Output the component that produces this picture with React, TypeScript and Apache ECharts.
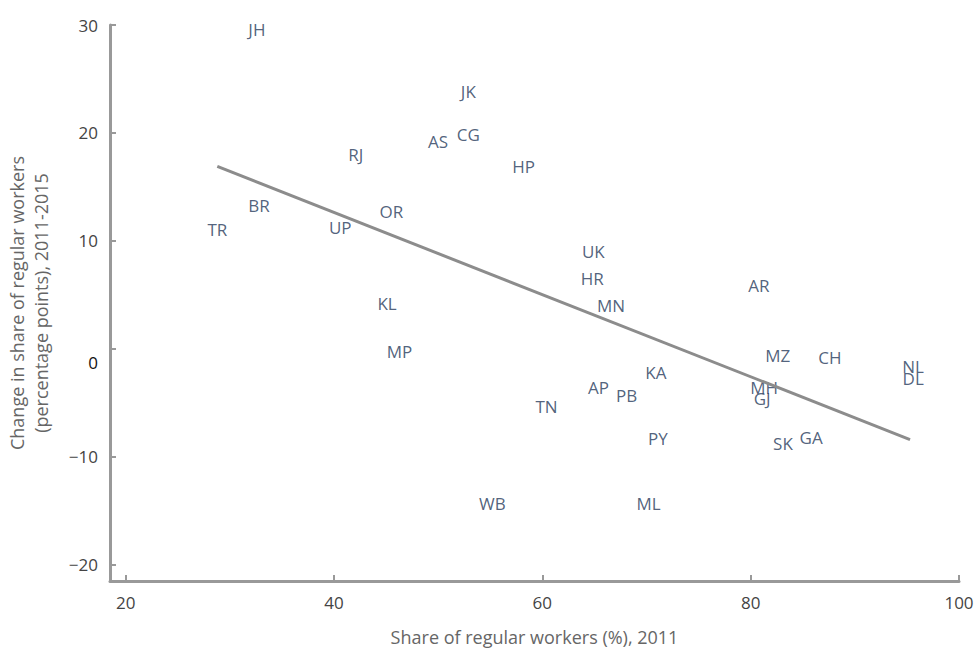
import React, { useEffect, useRef } from "react";
import * as echarts from "echarts";

const states = ["JH","JK","CG","AS","RJ","HP","BR","OR","TR","UP","UK","HR","AR","KL","MN","MP","MZ","CH","NL","DL","KA","AP","MH","PB","GJ","TN","PY","GA","SK","WB","ML"];
const share2011 = [32.6,52.9,52.9,50.0,42.1,58.2,32.8,45.5,28.8,40.6,64.9,64.8,80.8,45.1,66.6,46.3,82.6,87.6,95.6,95.6,70.9,65.4,81.3,68.1,81.1,60.4,71.1,85.8,83.1,55.2,70.2];
const change = [29.6,23.8,19.9,19.2,18.0,16.9,13.3,12.7,11.1,11.2,9.0,6.5,5.9,4.2,4.0,-0.2,-0.65,-0.8,-1.6,-2.7,-2.2,-3.6,-3.6,-4.3,-4.6,-5.3,-8.3,-8.2,-8.8,-14.3,-14.3];
const trendX = [28.8, 95.3];
const trendY = [16.9, -8.4];
const xTicks = [20, 40, 60, 80, 100];
const yTicks = [-20, -10, 0, 10, 20, 30];

const FONT = "'Open Sans', sans-serif";

export default function App() {
  const ref = useRef<HTMLDivElement>(null);
  useEffect(() => {
    if (!ref.current) return;
    const chart = echarts.init(ref.current, undefined, { renderer: "svg" });
    const pts = states.map((s, i) => ({ value: [share2011[i], change[i]], name: s }));
    chart.setOption({
      animation: false,
      grid: { left: 110, right: 18, top: 25, bottom: 69, outerBoundsMode: "none", containLabel: false },
      xAxis: {
        type: "value",
        min: 18.5,
        max: 100,
        name: "Share of regular workers (%), 2011",
        nameLocation: "middle",
        nameGap: 47,
        nameTextStyle: { color: "#666", fontSize: 18, fontFamily: FONT },
        splitLine: { show: false },
        axisLine: { show: true, onZero: false, lineStyle: { color: "#999", width: 3 } },
        axisTick: { show: true, inside: true, length: 6, lineStyle: { color: "#999", width: 2 }, customValues: xTicks },
        axisLabel: {
          color: "#444", fontSize: 17, fontFamily: FONT, margin: 13,
          customValues: xTicks,
        },
      },
      yAxis: {
        type: "value",
        min: -21.5,
        max: 30,
        name: "Change in share of regular workers\n(percentage points), 2011-2015",
        nameLocation: "middle",
        nameGap: 57,
        nameTextStyle: { color: "#666", fontSize: 18, fontFamily: FONT, lineHeight: 24 },
        splitLine: { show: false },
        axisLine: { show: true, onZero: false, lineStyle: { color: "#999", width: 3 } },
        axisTick: { show: true, inside: true, length: 6, lineStyle: { color: "#999", width: 2 }, customValues: yTicks },
        axisLabel: {
          color: "#444", fontSize: 17, fontFamily: FONT, margin: 12,
          customValues: yTicks,
          formatter: (v: number) => (v === 0 ? "{z|0}" : v < 0 ? "\u2212" + Math.abs(v) : String(v)),
          rich: { z: { color: "#111", fontSize: 17, fontFamily: FONT, padding: [28, 0, 0, 0] } },
        },
      },
      series: [
        {
          type: "scatter",
          data: pts,
          symbolSize: 1,
          itemStyle: { color: "transparent" },
          label: {
            show: true,
            position: "inside",
            formatter: (p: any) => p.name,
            color: "#26395a",
            fontSize: 17,
            fontFamily: FONT,
          },
          emphasis: { disabled: true },
        },
        {
          type: "line",
          data: trendX.map((x, i) => [x, trendY[i]]),
          symbol: "none",
          lineStyle: { color: "#8c8c8c", width: 3 },
          z: 5,
        },
      ],
    });
    return () => chart.dispose();
  }, []);
  return <div ref={ref} style={{ width: 977, height: 650, position: "absolute", left: 0, top: 0 }} />;
}
